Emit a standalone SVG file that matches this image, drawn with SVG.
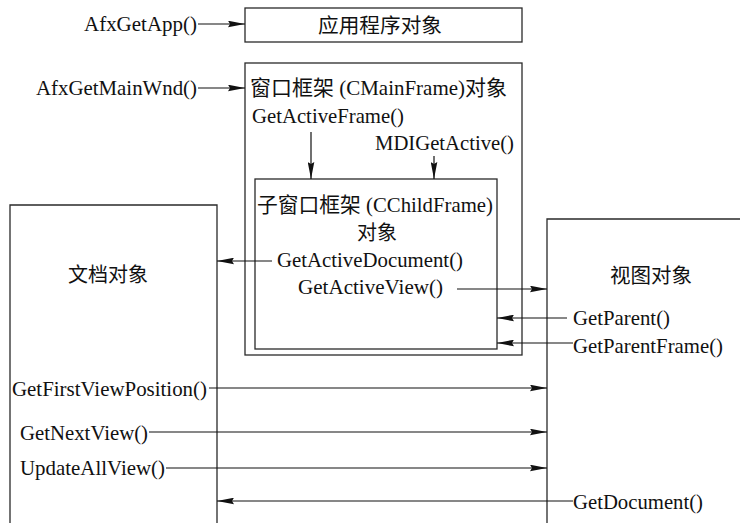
<svg xmlns="http://www.w3.org/2000/svg" width="740" height="523" viewBox="0 0 740 523">
<style>
.box{fill:none;stroke:#2a2a2a;stroke-width:1.3}
.con{fill:none;stroke:#111;stroke-width:1.2;marker-end:url(#ah)}
text{font-family:"Liberation Serif","Noto Sans CJK SC",serif;font-size:21px;fill:#111}
.cjk{font-family:"Noto Sans CJK SC","Liberation Serif",sans-serif;font-size:20px}
</style>
<defs>
<marker id="ah" markerUnits="userSpaceOnUse" markerWidth="17" markerHeight="7" refX="17" refY="3.5" orient="auto">
<path d="M0,0.2 L17,3.5 L0,6.8 L2,3.5 Z" fill="#111"/>
</marker>
</defs>
<rect width="740" height="523" fill="#fff"/>
<g id="app">
<rect class="box" x="245" y="8" width="277" height="34"/>
<text class="cjk" x="318" y="33" textLength="124" lengthAdjust="spacingAndGlyphs">应用程序对象</text>
</g>
<g id="mainframe">
<rect class="box" x="245" y="63" width="277" height="292"/>
<text x="250" y="95" textLength="257" lengthAdjust="spacingAndGlyphs">窗口框架 (CMainFrame)对象</text>
<text x="252" y="123" textLength="152" lengthAdjust="spacingAndGlyphs">GetActiveFrame()</text>
<text x="375" y="150" textLength="139" lengthAdjust="spacingAndGlyphs">MDIGetActive()</text>
</g>
<g id="childframe">
<rect class="box" x="255" y="179" width="242" height="170"/>
<text x="257" y="212" textLength="236" lengthAdjust="spacingAndGlyphs">子窗口框架 (CChildFrame)</text>
<text class="cjk" x="357" y="240" textLength="40" lengthAdjust="spacingAndGlyphs">对象</text>
<text x="277" y="267" textLength="186" lengthAdjust="spacingAndGlyphs">GetActiveDocument()</text>
<text x="298" y="294" textLength="145" lengthAdjust="spacingAndGlyphs">GetActiveView()</text>
</g>
<g id="document">
<path class="box" d="M10,526 V205 H217 V526"/>
<text class="cjk" x="68" y="282" textLength="80" lengthAdjust="spacingAndGlyphs">文档对象</text>
<text x="12" y="396" textLength="195" lengthAdjust="spacingAndGlyphs">GetFirstViewPosition()</text>
<text x="20" y="440" textLength="128" lengthAdjust="spacingAndGlyphs">GetNextView()</text>
<text x="20" y="475" textLength="145" lengthAdjust="spacingAndGlyphs">UpdateAllView()</text>
</g>
<g id="view">
<path class="box" d="M547,526 V219 H742"/>
<text class="cjk" x="610" y="283" textLength="82" lengthAdjust="spacingAndGlyphs">视图对象</text>
<text x="573" y="325" textLength="97" lengthAdjust="spacingAndGlyphs">GetParent()</text>
<text x="573" y="353" textLength="150" lengthAdjust="spacingAndGlyphs">GetParentFrame()</text>
<text x="573" y="509" textLength="130" lengthAdjust="spacingAndGlyphs">GetDocument()</text>
</g>
<g id="callers">
<text x="84" y="31" textLength="113" lengthAdjust="spacingAndGlyphs">AfxGetApp()</text>
<text x="36" y="95" textLength="161" lengthAdjust="spacingAndGlyphs">AfxGetMainWnd()</text>
</g>
<g id="connectors">
<path class="con" d="M198,24 H245"/>
<path class="con" d="M198,88 H245"/>
<path class="con" d="M311,132 V179"/>
<path class="con" d="M434,156 V179"/>
<path class="con" d="M272,261 H217"/>
<path class="con" d="M457,289 H547"/>
<path class="con" d="M567,318 H497"/>
<path class="con" d="M573,343 H497"/>
<path class="con" d="M209,388 H547"/>
<path class="con" d="M149,432 H547"/>
<path class="con" d="M166,468 H547"/>
<path class="con" d="M573,501 H217"/>
</g>
</svg>
